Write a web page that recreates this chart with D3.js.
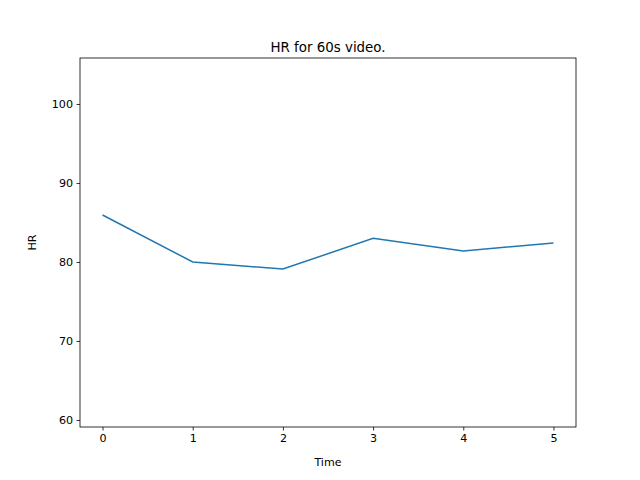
<!DOCTYPE html>
<html><head><meta charset="utf-8">
<script src="https://cdn.jsdelivr.net/npm/d3@7"></script>
<style>body{margin:0;background:#fff}text{font-family:"DejaVu Sans",sans-serif}</style>
</head><body><svg id="c" width="640" height="480"></svg>
<script>
const times=[0,1,2,3,4,5];
const hr=[85.95,80.0,79.1,83.0,81.4,82.4];
const yTicks=[60,70,80,90,100];
const svg=d3.select("#c");
const L=80,R=576,T=58,B=427;
const x=d3.scaleLinear().domain([-0.25,5.25]).range([L,R]);
const y=d3.scaleLinear().domain([59.11,105.82]).range([B,T]);
const xa=svg.append("g").attr("transform",`translate(0,${B})`).call(d3.axisBottom(x).tickValues(times).tickFormat(d3.format("d")).tickSize(3.5).tickPadding(3.5));
const ya=svg.append("g").attr("transform",`translate(${L},0)`).call(d3.axisLeft(y).tickValues(yTicks).tickSize(3.5).tickPadding(3.5));
[xa,ya].forEach(a=>{a.select(".domain").remove();a.selectAll("text").attr("font-size",11.1).attr("fill","#000").style("font-family","DejaVu Sans");a.selectAll("line").attr("stroke","#000").attr("stroke-width",0.8);});
svg.append("path").datum(times.map((t,i)=>[t,hr[i]])).attr("fill","none").attr("stroke","#1f77b4").attr("stroke-width",1.5)
 .attr("d",d3.line().x(d=>x(d[0])).y(d=>y(d[1])));
svg.append("rect").attr("x",L).attr("y",T).attr("width",R-L).attr("height",B-T).attr("fill","none").attr("stroke","#000").attr("stroke-width",0.8);
svg.append("text").attr("x",(L+R)/2).attr("y",T-6).attr("text-anchor","middle").attr("font-size",13.4).text("HR for 60s video.");
svg.append("text").attr("x",(L+R)/2).attr("y",466).attr("text-anchor","middle").attr("font-size",11.1).text("Time");
svg.append("text").attr("transform",`translate(36,${(T+B)/2}) rotate(-90)`).attr("text-anchor","middle").attr("font-size",11.1).text("HR");
</script></body></html>
